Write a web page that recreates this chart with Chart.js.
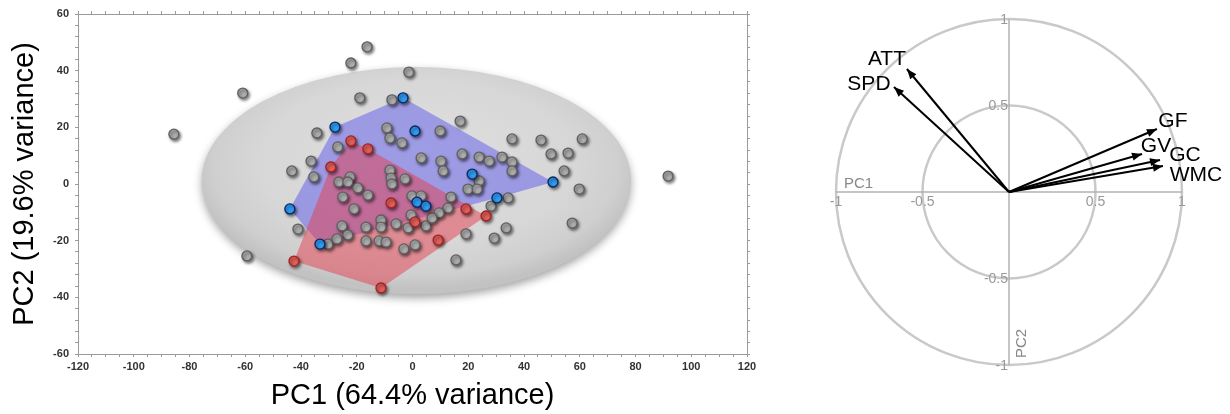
<!DOCTYPE html>
<html>
<head>
<meta charset="utf-8">
<script src="https://cdn.jsdelivr.net/npm/chart.js@4.4.1/dist/chart.umd.min.js"></script>
<style>
  html, body { margin: 0; padding: 0; background: #fff; }
  #wrap { position: relative; width: 1230px; height: 414px; overflow: hidden; }
  #scores { position: absolute; left: 0; top: 0; }
  #loadings { position: absolute; left: 790px; top: 0; }
</style>
</head>
<body>
<div id="wrap">
  <canvas id="scores" width="760" height="414"></canvas>
  <canvas id="loadings" width="440" height="414"></canvas>
</div>
<script>
// PCA scores: [PC1, PC2]
const greyScores = [
  [-85.6, 17.6], [-60.9, 32.1], [-59.4, -25.4], [-22.1, 42.7], [-16.3, 48.4], [-1.3, 39.5], [91.7, 2.8],
  [-18.9, 30.4], [-7.4, 29.7], [-34.3, 18.0], [-9.2, 19.8], [-26.8, 13.1], [-8.1, 16.2], [-3.8, 14.5], [3.1, 9.2],
  [-36.4, 8.1], [-43.3, 4.6], [-35.4, 2.5], [-22.4, 2.5], [-26.4, 0.7], [-23.2, 0.7], [-8.1, 4.9], [-7.7, 2.1],
  [-7.4, 0.0], [-2.7, 1.8], [-19.6, -1.4], [-16.0, -3.9], [-25.0, -4.6], [-0.2, -4.2], [3.1, -4.2], [-21.0, -8.8],
  [-41.1, -15.9], [-25.3, -14.8], [-23.2, -18.0], [-16.7, -15.2], [-11.3, -12.7], [-11.3, -15.2], [-5.9, -14.1],
  [-1.6, -15.5], [-0.5, -10.9], [4.8, -14.8], [-30.3, -21.2], [-27.1, -19.4], [-16.7, -20.1], [-12.0, -20.1],
  [-9.5, -20.5], [-3.1, -22.9], [0.9, -21.5],
  [17.1, 22.2], [9.9, 18.7], [35.7, 15.9], [46.1, 15.5], [60.9, 15.9], [10.2, 8.1], [11.0, 4.6], [17.8, 10.6],
  [23.9, 9.5], [27.5, 8.1], [32.1, 9.5], [35.7, 7.8], [35.7, 4.6], [49.7, 10.6], [55.8, 10.9], [54.4, 4.6],
  [23.9, 1.1], [19.9, -1.8], [23.2, -1.8], [59.8, -1.8], [13.8, -4.6], [34.3, -4.9], [12.7, -8.5], [9.5, -10.2],
  [7.0, -12.0], [28.2, -7.8], [33.6, -15.5], [29.3, -19.1], [19.2, -17.6], [15.6, -26.8], [57.3, -13.8]
];
const blueScores = [
  [-3.4, 30.4], [-27.8, 20.1], [0.9, 18.7], [21.4, 3.5], [50.4, 0.7],
  [30.3, -4.9], [1.6, -6.4], [4.8, -7.8], [-44.0, -8.8], [-33.2, -21.2]
];
const redScores = [
  [-22.1, 15.2], [-16.0, 12.4], [-29.3, 6.0], [-7.7, -6.7], [0.9, -13.4],
  [19.2, -8.8], [26.4, -11.3], [9.2, -19.8], [-42.5, -27.2], [-11.3, -36.7]
];
// confidence ellipse, in PC units
const ellipseCentre = [1.4, 1.2];
const ellipseRadii = [77.0, 40.1];

// loadings
const loadingNames = ['ATT', 'SPD', 'GF', 'GV', 'GC', 'WMC'];
const loadingPC1 = [-0.59, -0.665, 0.855, 0.769, 0.873, 0.89];
const loadingPC2 = [0.711, 0.607, 0.364, 0.22, 0.185, 0.15];
const circleRadii = [0.5, 1];
const circleTicks = [-1, -0.5, 0.5, 1];

// where each loading label sits relative to its arrow tip (px)
const labelOffset = { ATT: [-20, -10], SPD: [-25, -3], GF: [16, -8], GV: [14, -8], GC: [25, -5], WMC: [33, 9] };

const FONT = 'Liberation Sans, Arial, sans-serif';

function toXY(pairs) {
    return pairs.map(p => ({x: p[0], y: p[1]}));
}

// convex hull (monotone chain), closed
function hull(pairs) {
    let pts = toXY(pairs).sort((a, b) => a.x - b.x || a.y - b.y);
    let cross = (o, a, b) => (a.x - o.x) * (b.y - o.y) - (a.y - o.y) * (b.x - o.x);
    let lower = [], upper = [];
    pts.forEach(p => {
        while (lower.length >= 2 && cross(lower[lower.length - 2], lower[lower.length - 1], p) <= 0) lower.pop();
        lower.push(p);
    });
    pts.slice().reverse().forEach(p => {
        while (upper.length >= 2 && cross(upper[upper.length - 2], upper[upper.length - 1], p) <= 0) upper.pop();
        upper.push(p);
    });
    lower.pop();
    upper.pop();
    let h = lower.concat(upper);
    h.push(h[0]);
    return h;
}

const ellipsePlugin = {
    id: 'ellipse',
    beforeDatasetsDraw(chart) {
        let {ctx, scales: {x, y}} = chart;
        let cx = x.getPixelForValue(ellipseCentre[0]);
        let cy = y.getPixelForValue(ellipseCentre[1]);
        let rx = x.getPixelForValue(ellipseCentre[0] + ellipseRadii[0]) - cx;
        let ry = cy - y.getPixelForValue(ellipseCentre[1] + ellipseRadii[1]);
        ctx.save();
        ctx.shadowColor = 'rgba(0,0,0,0.35)';
        ctx.shadowBlur = 9;
        ctx.shadowOffsetY = 4;
        ctx.translate(cx, cy);
        ctx.scale(1, ry / rx);
        let g = ctx.createRadialGradient(0, -rx * 0.3, 0, 0, -rx * 0.1, rx * 1.05);
        g.addColorStop(0, '#dfdfdf');
        g.addColorStop(0.7, '#d7d7d7');
        g.addColorStop(0.9, '#cfcfcf');
        g.addColorStop(1, '#c2c2c2');
        ctx.fillStyle = g;
        ctx.beginPath();
        ctx.arc(0, 0, rx, 0, Math.PI * 2);
        ctx.fill();
        ctx.restore();
    }
};

const shadowPlugin = {
    id: 'pointShadow',
    beforeDatasetDraw(chart, args) {
        if (!chart.data.datasets[args.index].dropShadow) return;
        let ctx = chart.ctx;
        ctx.save();
        ctx.shadowColor = 'rgba(0,0,0,0.5)';
        ctx.shadowBlur = 3;
        ctx.shadowOffsetX = 1.5;
        ctx.shadowOffsetY = 2;
    },
    afterDatasetDraw(chart, args) {
        if (chart.data.datasets[args.index].dropShadow) chart.ctx.restore();
    }
};

function pointSet(pairs, fill, edge, order) {
    return {
        data: toXY(pairs),
        backgroundColor: fill,
        borderColor: edge,
        borderWidth: 1.3,
        pointRadius: 5,
        pointHoverRadius: 5,
        order: order,
        dropShadow: true
    };
}

function hullSet(pairs, fill, order) {
    return {
        type: 'line',
        data: hull(pairs),
        fill: 'shape',
        backgroundColor: fill,
        borderColor: 'rgba(0,0,0,0)',
        borderWidth: 0,
        pointRadius: 0,
        pointHoverRadius: 0,
        tension: 0,
        order: order
    };
}

let edgeGrid = {drawOnChartArea: false, drawTicks: true, tickLength: 3, color: '#9a9a9a'};
let edgeBorder = {color: '#9a9a9a', width: 1};
let tickFont = {family: FONT, size: 11, weight: 'bold'};

new Chart(document.getElementById('scores'), {
    type: 'scatter',
    data: {
        datasets: [
            pointSet(blueScores, '#2e9cf0', '#0c2462', 1),
            pointSet(redScores, '#e0605c', '#a41f1f', 2),
            pointSet(greyScores, '#adadad', '#5e5e5e', 3),
            hullSet(redScores, 'rgba(228,62,78,0.5)', 5),
            hullSet(blueScores, 'rgba(100,94,236,0.52)', 6)
        ]
    },
    options: {
        responsive: false,
        animation: false,
        layout: {padding: {left: 5, right: 7, top: 8, bottom: 1}},
        plugins: {legend: {display: false}, tooltip: {enabled: false}},
        scales: {
            x: {
                type: 'linear', position: 'bottom', min: -120, max: 120,
                ticks: {stepSize: 5, autoSkip: false, maxRotation: 0, padding: 3, color: '#333', font: tickFont,
                    callback: v => v % 20 === 0 ? String(v) : ''},
                grid: edgeGrid, border: edgeBorder,
                title: {display: true, text: 'PC1 (64.4% variance)', color: '#000',
                    font: {family: FONT, size: 29}, padding: {top: 0, bottom: 0}},
                afterFit: s => { s.height = 59; }
            },
            y: {
                type: 'linear', position: 'left', min: -60, max: 60,
                ticks: {stepSize: 4, autoSkip: false, padding: 6, color: '#333', font: tickFont,
                    callback: v => v % 20 === 0 ? String(v) : ''},
                grid: edgeGrid, border: edgeBorder,
                title: {display: true, text: 'PC2 (19.6% variance)', color: '#000',
                    font: {family: FONT, size: 29}, padding: {top: 3, bottom: 0}},
                afterFit: s => { s.width = 73; }
            },
            x2: {
                type: 'linear', position: 'top', min: -120, max: 120,
                ticks: {display: false, stepSize: 5, autoSkip: false},
                grid: edgeGrid, border: edgeBorder,
                afterFit: s => { s.height = 6; }
            },
            y2: {
                type: 'linear', position: 'right', min: -60, max: 60,
                ticks: {display: false, stepSize: 4, autoSkip: false},
                grid: edgeGrid, border: edgeBorder,
                afterFit: s => { s.width = 6; }
            }
        }
    },
    plugins: [ellipsePlugin, shadowPlugin]
});

const circlePlugin = {
    id: 'correlationCircle',
    beforeDatasetsDraw(chart) {
        let {ctx, scales: {x, y}} = chart;
        let cx = x.getPixelForValue(0), cy = y.getPixelForValue(0);
        let unit = x.getPixelForValue(1) - cx;
        ctx.save();
        ctx.strokeStyle = '#c9c9c9';
        ctx.lineWidth = 2.5;
        circleRadii.forEach(r => {
            ctx.beginPath();
            ctx.arc(cx, cy, unit * r, 0, Math.PI * 2);
            ctx.stroke();
        });
        ctx.strokeStyle = '#b3b3b3';
        ctx.lineWidth = 1.5;
        ctx.beginPath();
        ctx.moveTo(x.getPixelForValue(-1), cy);
        ctx.lineTo(x.getPixelForValue(1), cy);
        ctx.moveTo(cx, y.getPixelForValue(1));
        ctx.lineTo(cx, y.getPixelForValue(-1));
        ctx.stroke();

        ctx.fillStyle = '#999';
        ctx.font = '14px ' + FONT;
        ctx.textBaseline = 'middle';
        ctx.textAlign = 'center';
        circleTicks.forEach(v => ctx.fillText(String(v), x.getPixelForValue(v), cy + 10));
        ctx.textAlign = 'right';
        circleTicks.forEach(v => ctx.fillText(String(v), cx - 1, y.getPixelForValue(v) + 1));

        ctx.font = '15px ' + FONT;
        ctx.fillStyle = '#888';
        ctx.textAlign = 'left';
        ctx.textBaseline = 'alphabetic';
        ctx.fillText('PC1', x.getPixelForValue(-1) + 8, cy - 4);
        ctx.translate(cx + 17, y.getPixelForValue(-1) - 7);
        ctx.rotate(-Math.PI / 2);
        ctx.fillText('PC2', 0, 0);
        ctx.restore();
    },
    afterDatasetsDraw(chart) {
        let ctx = chart.ctx;
        ctx.save();
        ctx.fillStyle = '#000';
        ctx.font = '21px ' + FONT;
        ctx.textAlign = 'center';
        ctx.textBaseline = 'middle';
        chart.data.datasets.forEach((ds, i) => {
            let pts = chart.getDatasetMeta(i).data;
            let a = pts[0], b = pts[1];
            let ang = Math.atan2(b.y - a.y, b.x - a.x);
            let len = 10, half = 4;
            ctx.beginPath();
            ctx.moveTo(b.x, b.y);
            ctx.lineTo(b.x - len * Math.cos(ang) + half * Math.sin(ang), b.y - len * Math.sin(ang) - half * Math.cos(ang));
            ctx.lineTo(b.x - len * Math.cos(ang) - half * Math.sin(ang), b.y - len * Math.sin(ang) + half * Math.cos(ang));
            ctx.closePath();
            ctx.fill();
            let off = labelOffset[ds.label];
            ctx.fillText(ds.label, b.x + off[0], b.y + off[1]);
        });
        ctx.restore();
    }
};

new Chart(document.getElementById('loadings'), {
    type: 'scatter',
    data: {
        datasets: loadingNames.map((name, i) => ({
            label: name,
            data: [{x: 0, y: 0}, {x: loadingPC1[i], y: loadingPC2[i]}],
            showLine: true,
            borderColor: '#000',
            borderWidth: 2,
            pointRadius: 0,
            pointHoverRadius: 0
        }))
    },
    options: {
        responsive: false,
        animation: false,
        layout: {padding: {left: 46, right: 48, top: 19, bottom: 49}},
        plugins: {legend: {display: false}, tooltip: {enabled: false}},
        scales: {
            x: {type: 'linear', min: -1, max: 1, display: false},
            y: {type: 'linear', min: -1, max: 1, display: false}
        }
    },
    plugins: [circlePlugin]
});
</script>
</body>
</html>
